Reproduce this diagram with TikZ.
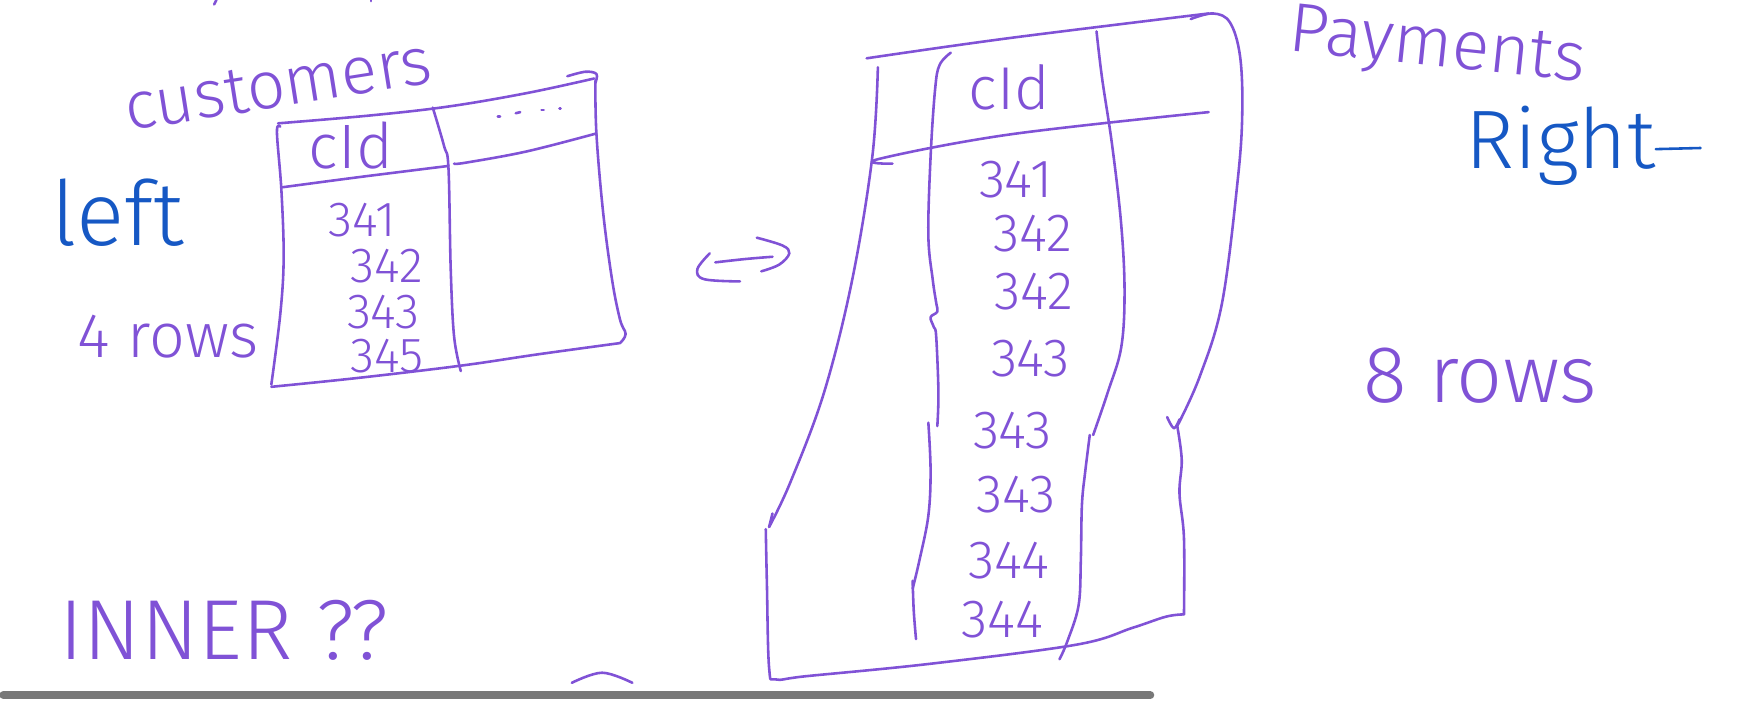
\documentclass[tikz,border=0pt]{standalone}
\usepackage{fontspec}
\setmainfont{Fira Sans}[UprightFont=* Light]
\definecolor{inkp}{RGB}{128,82,214}
\definecolor{inkb}{RGB}{22,88,196}
\definecolor{bargray}{RGB}{120,120,120}
\begin{document}
\begin{tikzpicture}[x=1pt,y=-1pt,
  pen/.style={draw=inkp, line width=2.3pt, line cap=round, line join=round},
  bpen/.style={draw=inkb, line width=2.3pt, line cap=round, line join=round},
  hw/.style={inner sep=0pt, text=inkp},
  hwb/.style={inner sep=0pt, text=inkb},
  num/.style={hw, font=\fontsize{44}{44}\selectfont},
  bignum/.style={hw, font=\fontsize{48}{48}\selectfont},
  sm/.style={smooth, tension=0.6}]
\useasboundingbox (0,0) rectangle (1568,630);
% ---------- left table (customers) ----------
\draw[pen] plot[sm] coordinates {(248,110) (330,103) (400,95) (470,83) (530,70)};
\draw[pen] plot[sm] coordinates {(506,68) (522,64) (532,66) (531,74)};
\draw[pen] plot[sm] coordinates {(531,72) (532,120) (538,190) (546,250) (553,285) (558,298) (553,306)};
\draw[pen] plot[sm] coordinates {(553,306) (480,316) (412,326) (320,337) (242,345)};
\draw[pen] plot[sm] coordinates {(250,113) (247,118) (251,170) (253,230) (250,280) (242,343)};
\draw[pen] plot[sm] coordinates {(252,167) (320,158) (400,148)};
\draw[pen] plot[sm] coordinates {(405,146) (416,145) (470,135) (532,119)};
\draw[pen] plot[sm] coordinates {(386,96) (396,130) (400,150) (402,240) (405,300) (411,331)};
\draw[pen] (444,104) -- (446,104);
\draw[pen] (460,101) -- (464,100);
\draw[pen] (483,98) -- (485,98);
\draw[pen] (499,97) -- (500,97);
\node[hw, font=\fontsize{56}{56}\selectfont] (lcid) at (313,130) {cId};
\node[num] (l1) at (323,196) {341};
\node[num] (l2) at (345,237) {342};
\node[num] (l3) at (342,278) {343};
\node[num] (l4) at (345,318) {345};
\node[hw, font=\fontsize{60}{60}\selectfont, rotate=9] (cust) at (248,76) {customers};
\node[hwb, font=\fontsize{80}{80}\selectfont] (left) at (105,190) {left};
\node[hw, font=\fontsize{56}{56}\selectfont] (lrows) at (150,300) {4 rows};
% ---------- double arrow ----------
\draw[pen] plot[sm] coordinates {(633,226) (622,240) (628,249) (660,251)};
\draw[pen] plot[sm] coordinates {(638,234) (665,231) (689,229)};
\draw[pen] plot[sm] coordinates {(675,212) (698,219) (704,226) (695,236) (679,242)};
% ---------- right table (payments) ----------
\draw[pen] plot[sm] coordinates {(773,52) (900,34) (1078,12)};
\draw[pen] plot[sm] coordinates {(1062,17) (1082,12) (1097,20) (1106,50) (1108,100) (1104,160) (1090,270) (1070,336) (1050,380)};
\draw[pen] plot[sm] coordinates {(1041,372) (1047,382) (1052,374)};
\draw[pen] plot[sm] coordinates {(1050,380) (1054,410) (1052,440) (1056,480) (1056,548)};
\draw[pen] plot[sm] coordinates {(1056,548) (1040,550) (1010,560) (960,575) (830,592) (720,603) (692,606) (686,596) (684,520) (683,472)};
\draw[pen] plot[sm] coordinates {(783,60) (778,140) (760,250) (735,350) (705,430) (686,470)};
\draw[pen] (686,470) -- (689,458);
\draw[pen] plot[sm] coordinates {(796,146) (783,142) (900,120) (1078,100)};
\draw[pen] plot[sm] coordinates {(848,47) (838,58) (834,80) (830,140) (828,210) (832,250) (835,270) (836,278) (830,283) (833,292) (835,300) (837,350) (836,380)};
\draw[pen] plot[sm] coordinates {(828,377) (830,420) (828,460) (820,500) (814,525)};
\draw[pen] plot[sm] coordinates {(814,518) (815,545) (817,570)};
\draw[pen] plot[sm] coordinates {(978,28) (983,70) (992,130) (1000,200) (1003,260) (1000,310) (988,350) (975,388)};
\draw[pen] plot[sm] coordinates {(972,388) (968,420) (965,450) (964,500) (962,540) (952,572) (945,588)};
\node[hw, font=\fontsize{54}{54}\selectfont] (rcid) at (900,78) {cId};
\node[bignum] (r1) at (906,160) {341};
\node[bignum] (r2) at (921,208) {342};
\node[bignum] (r3) at (922,260) {342};
\node[bignum] (r4) at (919,320) {343};
\node[bignum] (r5) at (903,384) {343};
\node[bignum] (r6) at (906,441) {343};
\node[bignum] (r7) at (900,500) {344};
\node[bignum] (r8) at (894,553) {344};
\node[hw, font=\fontsize{62}{62}\selectfont, rotate=-6] (pay) at (1282,44) {Payments};
\node[hwb, font=\fontsize{74}{74}\selectfont] (right) at (1392,130) {Right};
\draw[bpen] (right.east) ++(0,3) coordinate (tb) -- ++(40,-1);
\node[hw, font=\fontsize{72}{72}\selectfont] (rrows) at (1320,335) {8 rows};
% ---------- bottom ----------
\node[hw, font=\fontsize{76}{76}\selectfont] (inner) at (200,562) {INNER ??};
\draw[pen] plot[sm] coordinates {(510,609) (537,600) (564,609)};
\draw[bargray, line width=7pt, line cap=round] (3,620) -- (1026,620);
\draw[pen] (193,0) -- (191,4);
\draw[pen] (331,0) -- (331,1);
\end{tikzpicture}
\end{document}
